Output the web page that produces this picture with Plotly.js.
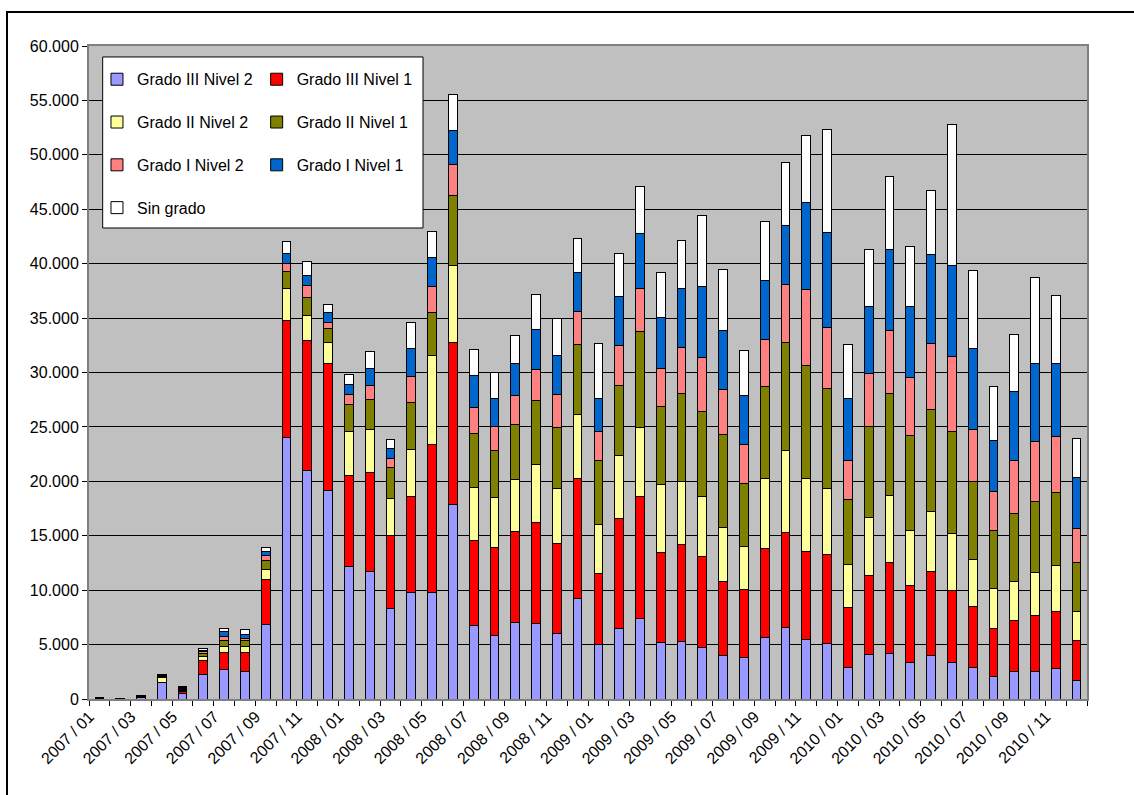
<!DOCTYPE html>
<html><head><meta charset="utf-8">
<script src="https://cdn.plot.ly/plotly-3.0.1.min.js"></script>
<style>
html,body{margin:0;padding:0;background:#fff;overflow:hidden}
#chart{width:1134px;height:795px}
#frame{position:absolute;left:6px;top:11px;width:1140px;height:800px;border:2px solid #000;box-sizing:border-box;pointer-events:none}
</style></head><body>
<div id="chart"></div><div id="frame"></div>
<script>
const months = ['2007 / 01','2007 / 02','2007 / 03','2007 / 04','2007 / 05','2007 / 06','2007 / 07','2007 / 08','2007 / 09','2007 / 10','2007 / 11','2007 / 12',
'2008 / 01','2008 / 02','2008 / 03','2008 / 04','2008 / 05','2008 / 06','2008 / 07','2008 / 08','2008 / 09','2008 / 10','2008 / 11','2008 / 12',
'2009 / 01','2009 / 02','2009 / 03','2009 / 04','2009 / 05','2009 / 06','2009 / 07','2009 / 08','2009 / 09','2009 / 10','2009 / 11','2009 / 12',
'2010 / 01','2010 / 02','2010 / 03','2010 / 04','2010 / 05','2010 / 06','2010 / 07','2010 / 08','2010 / 09','2010 / 10','2010 / 11','2010 / 12'];

const gradoIIINivel2 = [30,20,100,1520,500,2240,2700,2570,6890,24020,20950,19180,12190,11750,8280,9750,9750,17850,6760,5860,7040,6910,5990,9190,5010,6460,7420,5200,5290,4770,4010,3820,5620,6610,5460,5130,2890,4080,4180,3350,4010,3390,2890,2070,2570,2570,2800,1710];
const gradoIIINivel1 = [20,10,60,20,210,1340,1530,1660,4110,10790,12010,11640,8350,9020,6760,8870,13600,14920,7840,8080,8360,9280,8330,11090,6530,10080,11150,8240,8880,8320,6780,6210,8190,8680,8120,8160,5560,7270,8320,7040,7670,6580,5600,4440,4600,5090,5260,3620];
const gradoIINivel2 = [10,10,40,470,100,310,580,580,920,2880,2250,1950,4030,4020,3360,4290,8170,7060,4870,4570,4790,5330,5040,5900,4530,5800,6370,6300,5860,5490,5000,4010,6420,7570,6650,6020,3950,5360,6180,5130,5590,5230,4340,3620,3620,3980,4210,2730];
const gradoIINivel1 = [10,5,30,80,100,300,580,550,770,1550,1700,1260,2510,2700,2880,4360,4030,6390,4920,4340,5070,5890,5550,6400,5860,6500,8810,7170,8020,7860,8480,5730,8520,9930,10420,9240,5950,8290,9410,8720,9370,9370,7130,5390,6280,6520,6670,4500];
const gradoINivel2 = [10,5,20,50,80,150,340,210,450,810,1040,590,930,1330,850,2330,2320,2890,2360,2220,2660,2850,3040,2980,2630,3670,3990,3480,4270,4900,4180,3610,4240,5260,6940,5560,3520,4930,5790,5300,5990,6910,4840,3520,4800,5460,5170,3130];
const gradoINivel1 = [10,5,20,50,90,160,460,400,400,890,1000,850,890,1550,850,2620,2660,3140,2990,2560,2910,3710,3580,3640,3040,4470,5010,4660,5360,6520,5430,4480,5430,5500,8000,8710,5760,6180,7430,6570,8250,8380,7430,4740,6350,7170,6710,4700];
const sinGrado = [30,5,40,100,100,150,330,400,370,1070,1210,740,920,1550,850,2330,2410,3250,2330,2350,2600,3200,3460,3140,5040,3960,4310,4150,4440,6610,5550,4140,5490,5750,6170,9520,4930,5170,6680,5500,5820,12970,7140,4900,5290,7920,6250,3520];

const seriesNames = ['Grado III Nivel 2','Grado III Nivel 1','Grado II Nivel 2','Grado II Nivel 1','Grado I Nivel 2','Grado I Nivel 1','Sin grado'];
const seriesValues = [gradoIIINivel2, gradoIIINivel1, gradoIINivel2, gradoIINivel1, gradoINivel2, gradoINivel1, sinGrado];
const seriesColors = ['#9999FF','#FF0000','#FFFF99','#808000','#FF8080','#0066CC','#FFFFFF'];
const legendOf = ['legend','legend2','legend','legend2','legend','legend2','legend'];

const traces = seriesNames.map((name, i) => ({
  type: 'bar',
  name: name,
  x: months,
  y: seriesValues[i],
  legend: legendOf[i],
  legendgroup: 'g' + i,
  marker: {color: seriesColors[i], line: {color: '#000000', width: 1}},
  hoverinfo: 'x+y+name'
}));

const tickText = months.map((m, i) => (i % 2 === 0 ? m : ''));
const FONT = 'Liberation Sans, Arial, sans-serif';

const legendCommon = {
  bgcolor: 'rgba(0,0,0,0)', borderwidth: 0,
  font: {family: FONT, size: 16, color: '#000'},
  traceorder: 'grouped', tracegroupgap: 19,
  xanchor: 'left', yanchor: 'top'
};

const layout = {
  width: 1134, height: 795,
  margin: {l: 89, r: 47, t: 46, b: 96},
  paper_bgcolor: '#FFFFFF',
  plot_bgcolor: '#C0C0C0',
  barmode: 'stack',
  bargap: 0.58,
  separators: ',.',
  font: {family: FONT, size: 16, color: '#000'},
  showlegend: true,
  xaxis: {
    type: 'category',
    tickmode: 'array', tickvals: months, ticktext: tickText,
    tickson: 'boundaries', ticks: 'outside', ticklen: 5, tickcolor: '#000', tickwidth: 1,
    tickangle: -45,
    ticklabelshift: -10,
    tickfont: {family: FONT, size: 16, color: '#000'},
    showgrid: false, zeroline: false,
    showline: true, linecolor: '#808080', linewidth: 2, mirror: true,
    range: [-0.5, 47.5]
  },
  yaxis: {
    range: [0, 60000], dtick: 5000, tick0: 0,
    tickformat: ',d',
    ticks: 'outside', ticklen: 5, tickcolor: '#000', tickwidth: 1,
    tickfont: {family: FONT, size: 16, color: '#000'},
    showgrid: true, gridcolor: '#000000', gridwidth: 1,
    zeroline: false,
    showline: true, linecolor: '#808080', linewidth: 2, mirror: true
  },
  legend: Object.assign({}, legendCommon, {x: 0.008, y: 0.975}),
  legend2: Object.assign({}, legendCommon, {x: 0.168, y: 0.975}),
  shapes: [{
    type: 'rect', xref: 'paper', yref: 'paper', layer: 'above',
    x0: 0.0137, x1: 0.3347, y0: 0.7213, y1: 0.9832,
    fillcolor: '#FFFFFF', line: {color: '#000000', width: 1}
  }]
};

Plotly.newPlot('chart', traces, layout, {displayModeBar: false, staticPlot: true});
</script>
</body></html>
